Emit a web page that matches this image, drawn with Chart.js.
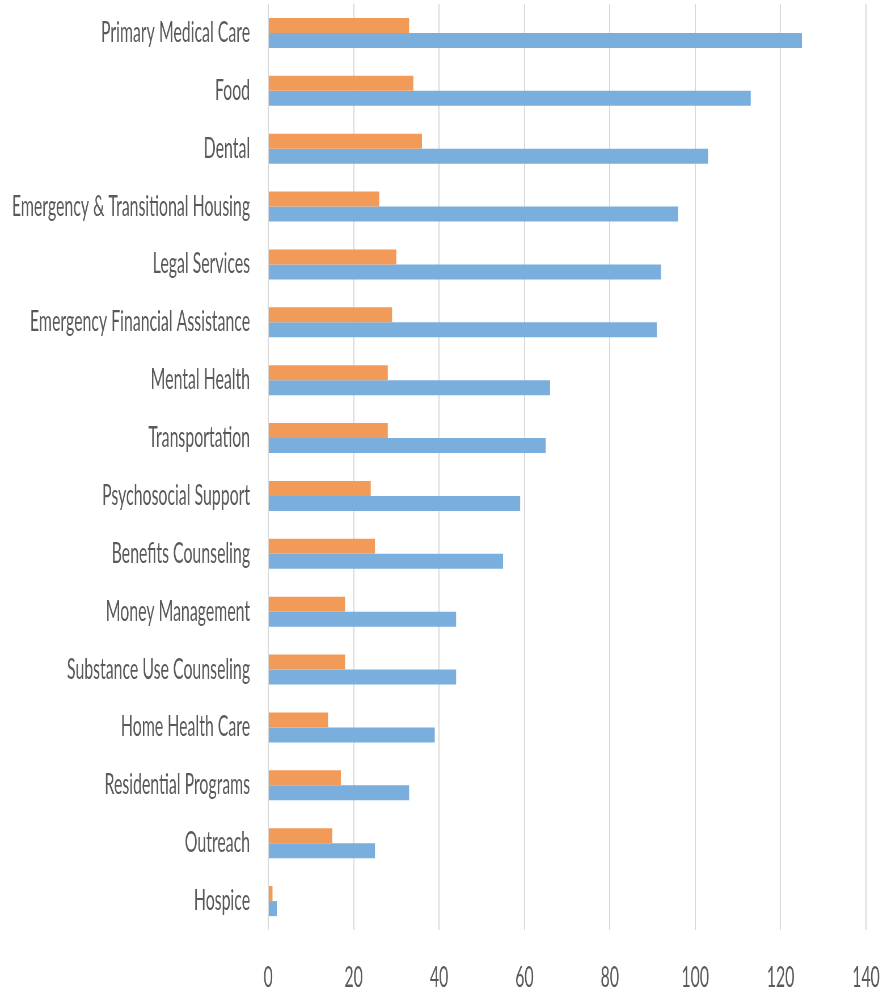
<!DOCTYPE html>
<html>
<head>
<meta charset="utf-8">
<script src="https://cdn.jsdelivr.net/npm/chart.js@4"></script>
<style>
  html, body { margin: 0; padding: 0; background: #fff; }
</style>
</head>
<body>
<!-- the reference looks horizontally squeezed, so the canvas is drawn wide and shown at 883px -->
<canvas id="chart" width="1557" height="992" style="width:883px;height:992px;display:block"></canvas>
<script>
const categories = [
  "Primary Medical Care",
  "Food",
  "Dental",
  "Emergency & Transitional Housing",
  "Legal Services",
  "Emergency Financial Assistance",
  "Mental Health",
  "Transportation",
  "Psychosocial Support",
  "Benefits Counseling",
  "Money Management",
  "Substance Use Counseling",
  "Home Health Care",
  "Residential Programs",
  "Outreach",
  "Hospice"
];
const orangeValues = [33, 34, 36, 26, 30, 29, 28, 28, 24, 25, 18, 18, 14, 17, 15, 1];
const blueValues = [125, 113, 103, 96, 92, 91, 66, 65, 59, 55, 44, 44, 39, 33, 25, 2];
const xTicks = [0, 20, 40, 60, 80, 100, 120, 140];

const textColor = "#595959";
const gridColor = "#d9d9d9";
const labelFont = { family: "Lato, 'Open Sans', sans-serif", size: 28 };

const ctx = document.getElementById("chart").getContext("2d");
new Chart(ctx, {
  type: "bar",
  data: {
    labels: categories,
    datasets: [
      {
        label: "Series 2",
        data: orangeValues,
        backgroundColor: "#F29B58",
        borderWidth: 0,
        categoryPercentage: 0.52,
        barPercentage: 1.0,
      },
      {
        label: "Series 1",
        data: blueValues,
        backgroundColor: "#7AAEDD",
        borderWidth: 0,
        categoryPercentage: 0.52,
        barPercentage: 1.0,
      },
    ],
  },
  options: {
    indexAxis: "y",
    responsive: false,
    devicePixelRatio: 1,
    animation: false,
    layout: { padding: { top: 4, left: 21, right: 30, bottom: 0 } },
    plugins: {
      legend: { display: false },
      tooltip: { enabled: false },
    },
    scales: {
      x: {
        min: xTicks[0],
        max: xTicks[xTicks.length - 1],
        afterBuildTicks: (axis) => {
          axis.ticks = xTicks.map((v) => ({ value: v }));
        },
        grid: { color: gridColor, lineWidth: 2, drawTicks: false },
        border: { display: false },
        ticks: { color: textColor, font: { ...labelFont, lineHeight: 1 }, padding: 34, maxRotation: 0 },
        // chart.js reserves the padding twice; keep it only above the labels
        afterFit: (axis) => {
          axis.height -= axis.options.ticks.padding;
          axis.paddingLeft = 0;
          axis.paddingRight = 0;
        },
      },
      y: {
        grid: { display: false, drawTicks: false },
        border: { display: false },
        ticks: { color: textColor, font: labelFont, padding: 32, autoSkip: false },
        afterFit: (axis) => {
          axis.width -= axis.options.ticks.padding;
          axis.paddingTop = 0;
          axis.paddingBottom = 0;
        },
      },
    },
  },
});
</script>
</body>
</html>
